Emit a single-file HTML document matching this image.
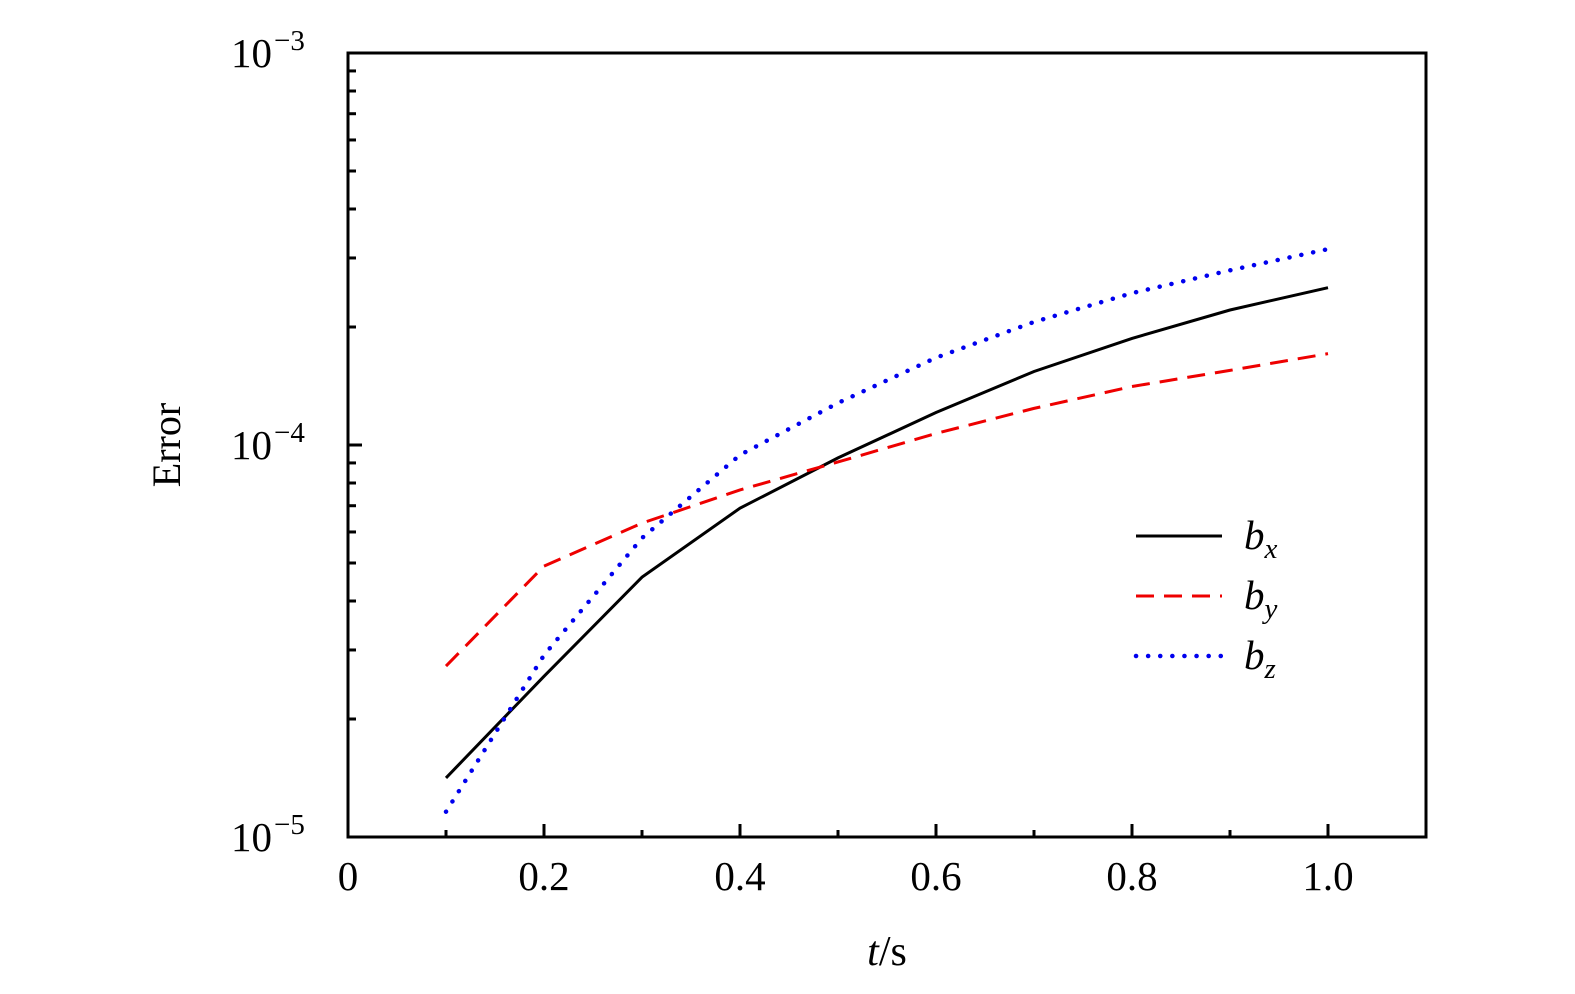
<!DOCTYPE html>
<html><head><meta charset="utf-8"><style>
html,body{margin:0;padding:0;background:#fff;overflow:hidden;width:1575px;height:994px}
svg{display:block}
svg text{font-family:"Liberation Serif",serif;fill:#000}
</style></head><body>
<svg width="1575" height="994" viewBox="0 0 1575 994">
<g id="ticks"></g>
<g id="series"></g>
<rect x="348" y="53" width="1078" height="784" fill="none" stroke="#000" stroke-width="3"/>
<g id="labels"></g>
<text x="180" y="445" font-size="40" text-anchor="middle" transform="rotate(-90 180 445)">Error</text>
<text x="887" y="965" font-size="42" text-anchor="middle"><tspan font-style="italic">t</tspan>/s</text>
<g id="legend"></g>
</svg>
<script>
const times=[0.1,0.2,0.3,0.4,0.5,0.6,0.7,0.8,0.9,1.0];
const bx=[1.415e-5,2.57e-5,4.6e-5,6.9e-5,9.27e-5,1.21e-4,1.54e-4,1.87e-4,2.21e-4,2.52e-4];
const by=[2.73e-5,4.91e-5,6.32e-5,7.68e-5,9.05e-5,1.07e-4,1.24e-4,1.41e-4,1.55e-4,1.71e-4];
const bz=[1.16e-5,2.91e-5,5.79e-5,9.43e-5,1.28e-4,1.67e-4,2.06e-4,2.44e-4,2.79e-4,3.16e-4];
const xTicks=["0","0.2","0.4","0.6","0.8","1.0"];
const yExps=[-5,-4,-3];
const NS="http://www.w3.org/2000/svg";
const X=v=>348+v*980;
const Y=v=>837-392*(Math.log10(v)+5);
function mk(tag,attrs,parent){const e=document.createElementNS(NS,tag);for(const k in attrs)e.setAttribute(k,attrs[k]);parent.appendChild(e);return e;}
const T=document.getElementById('ticks'),L=document.getElementById('labels'),S=document.getElementById('series'),G=document.getElementById('legend');
for(let i=1;i<=10;i++){const t=i/10;const major=i%2===0;
 const l=mk('line',{x1:X(t),x2:X(t),y1:837,y2:837-(major?13:7),stroke:'#000','stroke-width':3},T);
 
 }
xTicks.forEach(s=>{const t=mk('text',{x:X(parseFloat(s)),y:890,'font-size':41,'text-anchor':'middle'},L);t.textContent=s;
 
 });
for(let e=-5;e<-3;e++)for(let m=1;m<10;m++){const v=m*Math.pow(10,e);const major=m===1;if(major&&e===-5)continue;
 const l=mk('line',{x1:348,x2:348+(major?14:8),y1:Y(v),y2:Y(v),stroke:'#000','stroke-width':3},T);
 
 }
yExps.forEach(e=>{const y=Y(Math.pow(10,e));const t=mk('text',{x:272,y:y+14,'font-size':41,'text-anchor':'end'},L);t.textContent='10';
 
 
 const s=mk('text',{x:274,y:y-3,'font-size':29},L);s.textContent='\u2212'+(-e);
 
 });
const series=[{d:bx,c:'#000',dash:'',cap:'butt',n:'bx',sub:'x'},{d:by,c:'#e00',dash:'18 10',cap:'butt',n:'by',sub:'y'},{d:bz,c:'#00e',dash:'0.1 12',cap:'round',n:'bz',sub:'z'}];
series.forEach((s,i)=>{const pts=times.map((t,j)=>X(t)+','+Y(s.d[j])).join(' ');
 const p=mk('polyline',{points:pts,fill:'none',stroke:s.c,'stroke-width':s.cap==='round'?4.5:3,'stroke-dasharray':s.dash,'stroke-linecap':s.cap},S);
 
 
 const ly=536+i*60;
 const l=mk('line',{x1:1136,x2:1222,y1:ly,y2:ly,stroke:s.c,'stroke-width':s.cap==='round'?4.5:3,'stroke-dasharray':s.dash,'stroke-linecap':s.cap},G);
 
 
 const t=mk('text',{x:1244,y:ly+13,'font-size':41,'font-style':'italic'},G);
 
 
 t.innerHTML='b<tspan font-size="29" dy="9">'+s.sub+'</tspan>';});
</script>
</body></html>
